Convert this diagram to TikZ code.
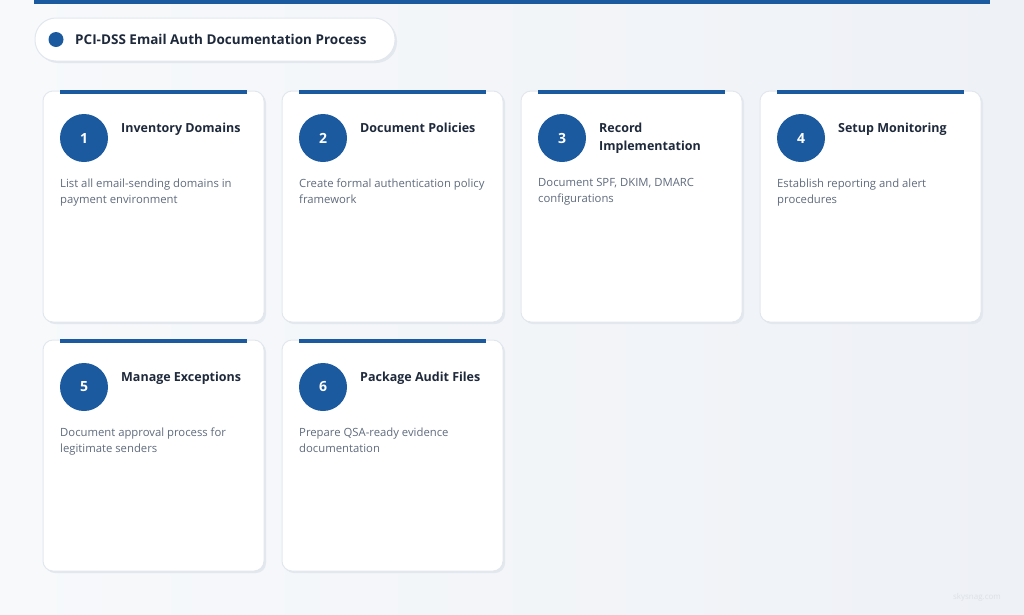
\documentclass[tikz,border=0pt]{standalone}
\usepackage{fontspec}
\setmainfont{Open Sans}
\definecolor{bgA}{HTML}{F7F9FB}
\definecolor{bgB}{HTML}{EEF1F6}
\definecolor{blue}{HTML}{1C5AA0}
\definecolor{cardline}{HTML}{E2E7EE}
\definecolor{shadowc}{HTML}{E3E7EE}
\definecolor{titlec}{HTML}{1E293B}
\definecolor{descc}{HTML}{5F6B7D}
\definecolor{wm}{HTML}{DDE1E7}
\begin{document}
\begin{tikzpicture}[x=1pt,y=-1pt,
  card/.style={draw=cardline,line width=1pt,fill=white,rounded corners=10pt},
  accent/.style={draw=blue,line width=3.5pt},
  numcirc/.style={circle,fill=blue,minimum size=48pt,inner sep=0pt,text=white,font=\fontsize{14}{16}\selectfont\bfseries},
  steptitle/.style={anchor=north west,inner sep=0pt,align=left,text=titlec,font=\fontsize{12.5}{18}\selectfont\bfseries},
  stepdesc/.style={anchor=north west,inner sep=0pt,align=left,text=descc,font=\fontsize{11.3}{16}\selectfont}
]
\useasboundingbox (0,0) rectangle (1024,614);
\shade[left color=bgA,right color=bgB] (0,0) rectangle (1024,614);
% top bar
\fill[blue] (34,0) rectangle (990,4);
% title pill
\fill[shadowc,rounded corners=21pt] (37,20) rectangle (397,63);
\draw[draw=cardline,line width=1pt,fill=white,rounded corners=21pt] (35,18) rectangle (395,61);
\fill[blue] (56,39.5) circle (7.5pt);
\node[anchor=west,inner sep=0pt,text=titlec,font=\fontsize{13.5}{16}\selectfont\bfseries] (title) at (75,39.5) {PCI-DSS Email Auth Documentation Process};
% cards
\foreach \i/\x/\y/\t/\d in {
  1/43/91/{Inventory Domains}/{List all email-sending domains in\\payment environment},
  2/282/91/{Document Policies}/{Create formal authentication policy\\framework},
  3/521/91/{Record\\Implementation}/{Document SPF, DKIM, DMARC\\configurations},
  4/760/91/{Setup Monitoring}/{Establish reporting and alert\\procedures},
  5/43/340/{Manage Exceptions}/{Document approval process for\\legitimate senders},
  6/282/340/{Package Audit Files}/{Prepare QSA-ready evidence\\documentation}}{
  \fill[shadowc,rounded corners=10pt] (\x+2,\y+2) rectangle (\x+223,\y+233);
  \draw[card] (\x,\y) rectangle (\x+221,\y+231);
  \draw[accent] (\x+17,\y+1) -- (\x+204,\y+1);
  \node[numcirc] (n\i) at (\x+41,\y+47) {\i};
  \node[steptitle] (t\i) at (\x+78,\y+31.5) {\t};
  \node[stepdesc] (d\i) at (\x+17,\y+87.5) {\d};
}
\node[anchor=center,inner sep=0pt,text=wm,font=\fontsize{8}{10}\selectfont] (wmk) at (977,597) {skysnag.com};
\end{tikzpicture}
\end{document}
